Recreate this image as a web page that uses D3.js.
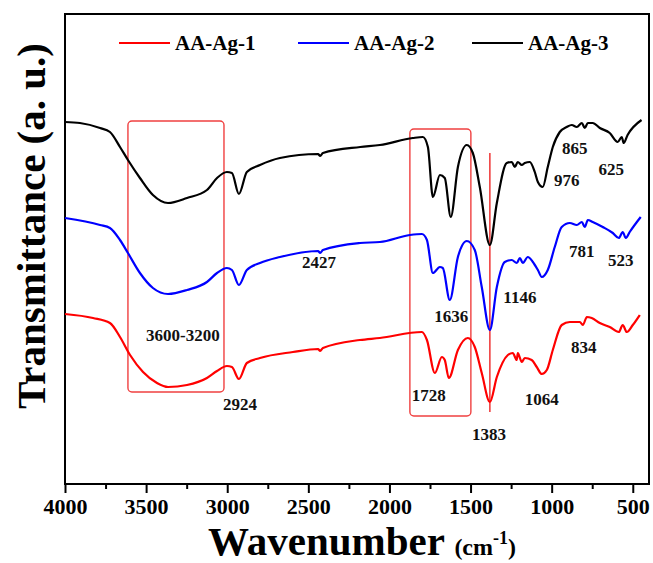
<!DOCTYPE html>
<html>
<head>
<meta charset="utf-8">
<script src="https://cdn.jsdelivr.net/npm/d3@7"></script>
<style>
  body { margin: 0; background: #fff; }
</style>
</head>
<body>
<div class="ftir"></div>
<script>
// FTIR spectra, [wavenumber, transmittance a.u.]
var ag1 = [[4000,17.0],[3827,16.6],[3723,16.1],[3661,14.7],[3599,12.9],[3519,11.2],[3433,10.1],[3365,9.7],
  [3248,9.9],[3125,10.6],[3063,11.3],[3002,11.8],[2971,11.7],[2928,10.5],[2879,12.1],[2798,12.6],[2595,13.2],
  [2440,13.5],[2427,13.3],[2410,13.6],[2182,14.4],[2059,14.6],[1800,15.2],[1769,14.4],[1720,11.1],[1677,12.7],
  [1659,12.4],[1634,10.6],[1578,13.4],[1517,14.6],[1474,13.7],[1431,11.1],[1381,8.2],[1338,10.7],[1270,12.9],
  [1240,13.1],[1215,12.4],[1209,13.1],[1184,12.2],[1166,12.6],[1123,12.4],[1092,11.7],[1061,11.0],[1030,11.4],
  [993,13.4],[938,15.9],[888,16.2],[826,16.2],[808,15.9],[783,16.7],[753,16.6],[703,16.1],[642,15.7],[586,15.2],
  [562,15.9],[537,15.2],[500,15.9],[457,16.9]]

var ag2 = [[4000,26.6],[3784,25.9],[3723,25.6],[3661,24.4],[3612,23.1],[3538,21.1],[3458,19.6],[3365,19.0],
  [3248,19.4],[3125,20.2],[3063,21.1],[3002,21.6],[2971,21.4],[2928,19.9],[2879,21.4],[2798,22.1],[2675,22.7],
  [2440,23.3],[2427,23.1],[2410,23.4],[2182,24.1],[2059,24.2],[1874,24.9],[1800,25.0],[1769,24.4],[1732,21.1],
  [1689,21.7],[1671,21.6],[1628,18.4],[1578,22.7],[1523,24.3],[1474,23.4],[1431,19.7],[1381,15.4],[1338,19.7],
  [1289,22.2],[1246,22.4],[1215,22.1],[1196,22.6],[1178,22.1],[1147,22.7],[1116,22.2],[1085,21.4],[1061,20.7],
  [1024,21.4],[981,23.7],[938,25.7],[888,26.1],[845,25.9],[814,26.2],[796,25.7],[777,26.4],[747,26.2],
  [685,25.7],[623,25.1],[586,24.6],[562,25.2],[543,24.6],[519,25.2],[451,26.7]]

var ag3 = [[4000,36.2],[3908,36.1],[3784,35.6],[3723,35.2],[3661,33.7],[3612,32.4],[3538,30.6],[3458,28.9],
  [3365,28.1],[3248,28.6],[3125,29.4],[3063,30.6],[3002,31.2],[2971,31.1],[2928,29.0],[2879,31.2],[2798,31.9],
  [2675,32.6],[2440,33.0],[2427,32.8],[2410,33.1],[2180,33.7],[2059,33.9],[1856,34.6],[1794,34.7],[1763,33.7],
  [1732,28.7],[1689,30.9],[1659,30.6],[1622,26.7],[1578,31.7],[1523,33.9],[1486,33.1],[1443,29.7],[1381,23.9],
  [1338,28.1],[1277,32.1],[1246,32.2],[1227,31.7],[1209,32.2],[1184,31.9],[1166,32.1],[1135,32.2],[1104,31.2],
  [1085,30.2],[1055,29.7],[1024,31.7],[993,33.7],[950,35.2],[907,35.7],[876,35.9],[845,35.7],[814,36.1],
  [796,35.6],[777,36.1],[747,36.1],[703,35.6],[642,35.1],[593,34.2],[568,34.7],[556,34.1],[532,34.9],[446,36.4]]

var seriesNames = ["AA-Ag-1", "AA-Ag-2", "AA-Ag-3"]
var seriesColors = ["#ff0000", "#0000ff", "#000000"]
var xTicks = [4000, 3500, 3000, 2500, 2000, 1500, 1000, 500]
var xMinorTicks = [3750, 3250, 2750, 2250, 1750, 1250, 750]

// peak labels: text, wavenumber, transmittance
var peakLabels = [["3600-3200",3273,14.3],["2924",2922,7.4],["2427",2435,21.6],["1636",1619,16.2],
  ["1146",1196,18.1],["1728",1757,8.3],["1383",1387,4.4],["1064",1061,7.9],["834",802,13.1],
  ["865",857,33.0],["976",907,29.8],["625",633,30.9],["781",814,22.7],["523",574,21.8]]

// highlighted regions [wn1, wn2, top, bottom]
var boxes = [[3612,3020,36.3,9.2],[1874,1498,35.5,6.8]]
var markLine = [1381, 33.1, 7.2]

var W = 653, H = 563
var mLeft = 65, mRight = 649, mTop = 14, mBottom = 484

var svg = d3.select(".ftir")
  .append("svg")
  .attr("width", W)
  .attr("height", H)
  .style("font-family", "'Liberation Serif', 'Times New Roman', serif")

var x = d3.scaleLinear().domain([4000, 400]).range([mLeft, mRight])
var y = d3.scaleLinear().domain([0, 47]).range([mBottom, mTop])

// axis with major + minor ticks
var xAxis = svg.append("g")
  .attr("transform", "translate(0," + mBottom + ")")
  .call(d3.axisBottom(x).tickValues(xTicks).tickSize(9).tickPadding(5).tickFormat(d3.format("d")))
xAxis.select(".domain").remove()
xAxis.selectAll("line").style("stroke-width", 2)
xAxis.selectAll("text")
  .style("font-size", "22px")
  .style("font-weight", "bold")
  .style("font-family", "'Liberation Serif', serif")
  .attr("fill", "#000")

var minor = svg.append("g")
  .attr("transform", "translate(0," + mBottom + ")")
  .call(d3.axisBottom(x).tickValues(xMinorTicks).tickSize(5).tickFormat(""))
minor.select(".domain").remove()
minor.selectAll("line").style("stroke-width", 2)

// frame
svg.append("rect")
  .attr("x", mLeft)
  .attr("y", mTop)
  .attr("width", mRight - mLeft)
  .attr("height", mBottom - mTop)
  .style("fill", "none")
  .style("stroke", "black")
  .style("stroke-width", 2)

// red boxes
boxes.forEach(function (b) {
  svg.append("rect")
    .attr("x", x(b[0]))
    .attr("y", y(b[2]))
    .attr("width", x(b[1]) - x(b[0]))
    .attr("height", y(b[3]) - y(b[2]))
    .attr("rx", 4)
    .style("fill", "none")
    .style("stroke", "#f04040")
    .style("stroke-width", 1.4)
})

svg.append("line")
  .attr("x1", x(markLine[0]))
  .attr("x2", x(markLine[0]))
  .attr("y1", y(markLine[1]))
  .attr("y2", y(markLine[2]))
  .style("stroke", "#f04040")
  .style("stroke-width", 1.6)

var line = d3.line()
  .x(function (d) { return x(d[0]) })
  .y(function (d) { return y(d[1]) })
  .curve(d3.curveMonotoneX)

;[ag1, ag2, ag3].forEach(function (s, i) {
  svg.append("path")
    .datum(s)
    .attr("d", line)
    .style("fill", "none")
    .style("stroke", seriesColors[i])
    .style("stroke-width", 2.2)
    .style("stroke-linejoin", "round")
})

// peak labels
peakLabels.forEach(function (p) {
  svg.append("text")
    .attr("x", x(p[1]))
    .attr("y", y(p[2]))
    .attr("text-anchor", "middle")
    .text(p[0])
    .style("font-size", "17px")
    .style("font-weight", "bold")
    .attr("fill", "#111")
})

// legend
var legendX = [119, 298, 472]
seriesNames.forEach(function (n, i) {
  svg.append("line")
    .attr("x1", legendX[i])
    .attr("x2", legendX[i] + 51)
    .attr("y1", 43)
    .attr("y2", 43)
    .style("stroke", seriesColors[i])
    .style("stroke-width", 2.2)
  svg.append("text")
    .attr("x", legendX[i] + 56)
    .attr("y", 50)
    .text(n)
    .style("font-size", "21px")
    .style("font-weight", "bold")
})

// axis titles
svg.append("text")
  .attr("transform", "translate(45,226) rotate(-90)")
  .attr("text-anchor", "middle")
  .text("Transmittance (a. u.)")
  .style("font-size", "41px")
  .style("font-weight", "bold")

var xt = svg.append("text")
  .attr("x", 362)
  .attr("y", 555)
  .attr("text-anchor", "middle")
  .style("font-weight", "bold")
xt.append("tspan").text("Wavenumber ").style("font-size", "41px")
xt.append("tspan").text("(cm").style("font-size", "24px")
xt.append("tspan").text("-1").style("font-size", "18px").attr("dy", -11)
xt.append("tspan").text(")").style("font-size", "24px").attr("dy", 11)
</script>
</body>
</html>
